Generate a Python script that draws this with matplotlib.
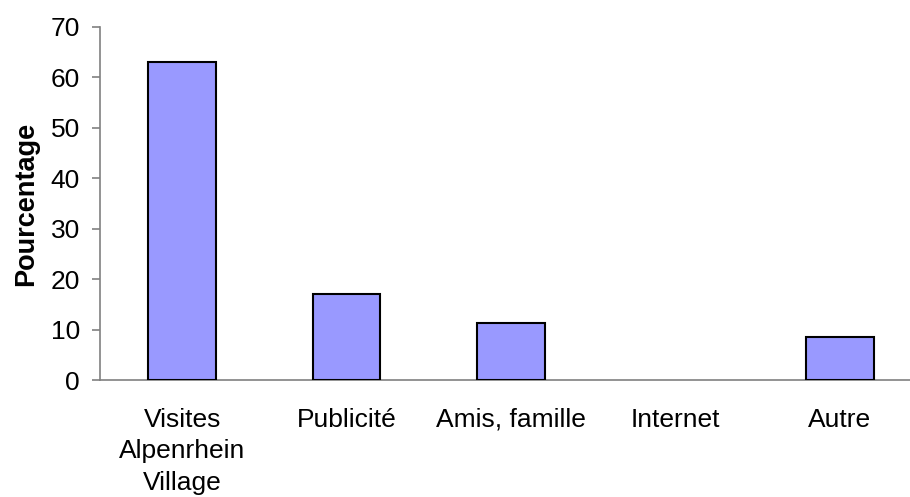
import matplotlib
matplotlib.use("Agg")
import matplotlib.pyplot as plt

categories = ["Visites\nAlpenrhein\nVillage", "Publicité", "Amis, famille", "Internet", "Autre"]
values = [63.0, 17.0, 11.4, 0.0, 8.6]
yticks = [0, 10, 20, 30, 40, 50, 60, 70]

plt.rcParams["font.family"] = ["Liberation Sans", "DejaVu Sans"]

W, H = 910, 497
fig = plt.figure(figsize=(W / 100, H / 100), dpi=100)
left, right, bottom, top = 100, 922, 380, 27
ax = fig.add_axes([left / W, 1 - bottom / H, (right - left) / W, (bottom - top) / H])

x = list(range(len(categories)))
# empty categories get no outline so nothing shows on the baseline
edge_w = [1.5 if v > 0 else 0 for v in values]
ax.bar(x, values, width=0.41, color="#9999FF", edgecolor="black", linewidth=edge_w, zorder=3)

ax.set_xlim(-0.5, len(categories) - 0.5)
ax.set_ylim(0, 70)
ax.set_yticks(yticks)
ax.set_yticklabels([str(t) for t in yticks], fontsize=19)
ax.set_xticks(x)
ax.set_xticklabels(categories, fontsize=19, linespacing=1.4)

for s in ["top", "right"]:
    ax.spines[s].set_visible(False)
for s in ["left", "bottom"]:
    ax.spines[s].set_color("#808080")
    ax.spines[s].set_linewidth(1.2)

ax.tick_params(axis="y", direction="out", length=6, width=1.2, color="#808080", pad=8.5)
ax.tick_params(axis="x", length=0, pad=20)

ax.set_ylabel("Pourcentage", fontsize=19.5, fontweight="bold", labelpad=8)

fig.savefig("out.png", dpi=100)
